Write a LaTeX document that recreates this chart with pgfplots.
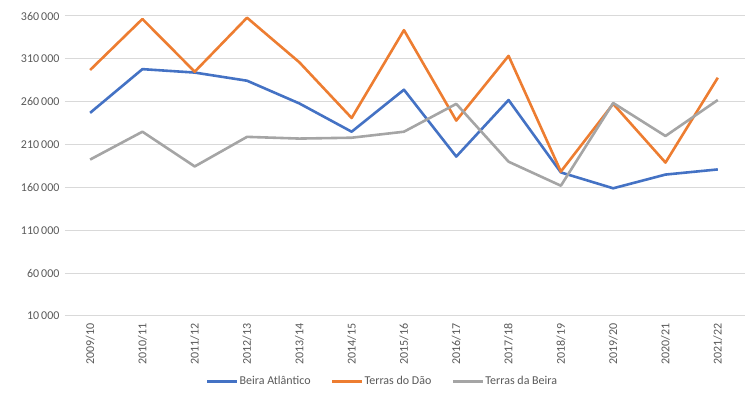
\documentclass[border=0pt]{standalone}
\usepackage{pgfplots}
\pgfplotsset{compat=1.18}
\usepackage{fontspec}
\setmainfont{Carlito}
\definecolor{cblue}{HTML}{4472C4}
\definecolor{corange}{HTML}{ED7D31}
\definecolor{cgray}{HTML}{A5A5A5}
\definecolor{ctext}{HTML}{595959}
\definecolor{cgrid}{HTML}{D9D9D9}
\begin{document}
\begin{tikzpicture}
\useasboundingbox (-65pt,-80pt) rectangle (685pt,316pt);
\begin{axis}[
  scale only axis,
  width=680pt, height=300pt,
  xmin=-0.48, xmax=12.52,
  ymin=10000, ymax=360000,
  ytick={10000,60000,110000,160000,210000,260000,310000,360000},
  xtick={0,...,12},
  xticklabels={2009/10,2010/11,2011/12,2012/13,2013/14,2014/15,2015/16,2016/17,2017/18,2018/19,2019/20,2020/21,2021/22},
  x tick label style={rotate=90, anchor=east, font=\fontsize{12}{14}\selectfont, text=ctext},
  y tick label style={font=\fontsize{12}{14}\selectfont, text=ctext},
  /pgf/number format/.cd, fixed, 1000 sep={\,}, assume math mode=true, /pgfplots/.cd,
  scaled y ticks=false,
  ymajorgrids,
  major grid style={draw=cgrid, line width=1pt},
  axis line style={draw=none},
  major tick length=0pt,
  xticklabel shift=4pt,
  yticklabel shift=2pt,
  legend style={at={(0.466,-0.2167)}, anchor=center, draw=none, fill=none,
    legend columns=-1, font=\fontsize{12}{14}\selectfont, text=ctext,
    nodes={inner xsep=1pt},
    /tikz/every even column/.append style={column sep=19pt}},
  legend image code/.code={\draw[#1, line width=3pt] (0pt,0pt) -- (30pt,0pt);},
  every axis plot/.append style={line width=2.6pt, line join=round, no markers},
]
\addplot[cblue] coordinates {(0,247000)(1,298000)(2,294000)(3,284500)(4,258000)(5,225000)(6,274000)(7,196000)(8,262000)(9,177500)(10,159000)(11,175000)(12,181000)};
\addlegendentry{Beira Atlântico}
\addplot[corange] coordinates {(0,297000)(1,356500)(2,295000)(3,358000)(4,306000)(5,241000)(6,343500)(7,238000)(8,313500)(9,178500)(10,257500)(11,189000)(12,288000)};
\addlegendentry{Terras do Dão}
\addplot[cgray] coordinates {(0,192500)(1,225000)(2,184500)(3,219000)(4,217000)(5,218000)(6,225000)(7,257500)(8,190000)(9,162000)(10,258500)(11,220000)(12,262000)};
\addlegendentry{Terras da Beira}
\end{axis}
\end{tikzpicture}
\end{document}
